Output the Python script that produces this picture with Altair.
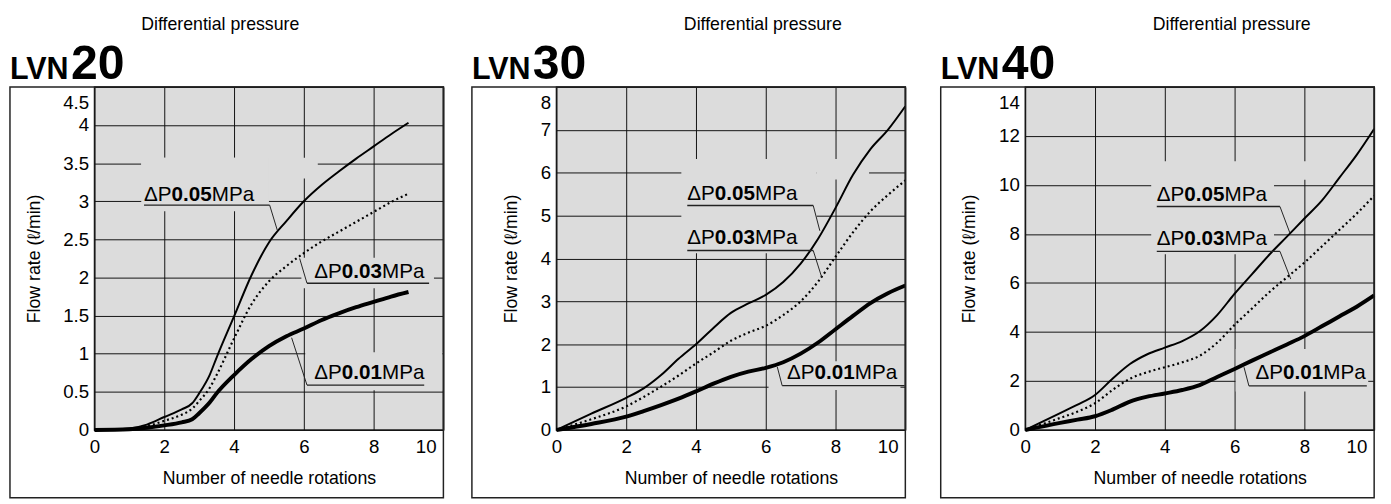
import altair as alt
import pandas as pd

FONT = "Liberation Sans"

# ---------------- data ----------------
series_names = ["0.05", "0.03", "0.01"]

# LVN20
lvn20_x = [0, 1, 1.5, 2, 2.5, 2.8, 3, 3.3, 3.5, 4, 4.5, 5, 5.5, 6, 6.5, 7, 7.5, 8, 8.5, 9]
lvn20_p05 = [0, 0.02, 0.07, 0.17, 0.27, 0.35, 0.48, 0.72, 0.95, 1.49, 2.03, 2.46, 2.74, 3.0, 3.21, 3.39, 3.56, 3.72, 3.88, 4.03]
lvn20_p03 = [0, 0.01, 0.05, 0.12, 0.2, 0.28, 0.38, 0.55, 0.72, 1.2, 1.65, 1.95, 2.15, 2.32, 2.47, 2.6, 2.73, 2.86, 2.99, 3.1]
lvn20_p01 = [0, 0.01, 0.03, 0.06, 0.1, 0.14, 0.22, 0.36, 0.48, 0.72, 0.93, 1.1, 1.23, 1.33, 1.44, 1.53, 1.61, 1.68, 1.75, 1.81]

# LVN30
lvn30_x = [0, 1, 2, 2.5, 3, 3.5, 4, 4.5, 5, 5.5, 6, 6.5, 7, 7.5, 8, 8.5, 9, 9.5, 10]
lvn30_p05 = [0, 0.38, 0.75, 0.97, 1.28, 1.66, 2.0, 2.38, 2.73, 2.95, 3.15, 3.45, 3.88, 4.46, 5.18, 5.95, 6.55, 7.0, 7.55]
lvn30_p03 = [0, 0.25, 0.55, 0.77, 1.01, 1.27, 1.55, 1.81, 2.08, 2.27, 2.43, 2.68, 3.0, 3.46, 4.04, 4.61, 5.1, 5.48, 5.82]
lvn30_p01 = [0, 0.14, 0.31, 0.44, 0.58, 0.73, 0.9, 1.08, 1.24, 1.36, 1.45, 1.58, 1.78, 2.04, 2.35, 2.66, 2.96, 3.19, 3.37]

# LVN40
lvn40_x = [0, 1, 1.5, 2, 2.5, 3, 3.5, 4, 4.5, 5, 5.5, 6, 6.5, 7, 7.5, 8, 8.5, 9, 9.5, 10]
lvn40_p05 = [0, 0.69, 1.03, 1.43, 2.09, 2.69, 3.09, 3.36, 3.63, 4.03, 4.69, 5.56, 6.36, 7.16, 7.89, 8.63, 9.36, 10.29, 11.23, 12.29]
lvn40_p03 = [0, 0.49, 0.75, 1.09, 1.63, 2.09, 2.36, 2.56, 2.76, 3.03, 3.56, 4.29, 4.96, 5.63, 6.23, 6.83, 7.49, 8.16, 8.83, 9.56]
lvn40_p01 = [0, 0.29, 0.42, 0.56, 0.83, 1.16, 1.36, 1.49, 1.63, 1.83, 2.16, 2.49, 2.83, 3.16, 3.49, 3.83, 4.23, 4.63, 5.03, 5.49]

# annotation anchors (data units): label text, underline, leader to curve
lvn20_lab_x = [1.42, 6.30, 6.30]
lvn20_lab_y = [3.01, 1.99, 0.663]
lvn20_ul_x1 = [1.42, 6.09, 6.09]
lvn20_ul_x2 = [5.02, 9.59, 9.45]
lvn20_ul_y = [2.95, 1.925, 0.589]
lvn20_ld_x1 = [5.02, 6.09, 6.09]
lvn20_ld_x2 = [5.24, 5.88, 5.65]
lvn20_ld_y2 = [2.62, 2.25, 1.21]
lvn20_bg_x1 = [1.34, 1.34, 5.93, 6.04]
lvn20_bg_x2 = [6.4, 5.0, 9.73, 9.97]
lvn20_bg_y1 = [3.30, 2.87, 1.86, 0.52]
lvn20_bg_y2 = [3.57, 3.57, 2.26, 1.02]

lvn30_lab_x = [3.75, 3.75, 6.61]
lvn30_lab_y = [5.37, 4.34, 1.2]
lvn30_ul_x1 = [3.75, 3.75, 6.47]
lvn30_ul_x2 = [7.36, 7.36, 9.98]
lvn30_ul_y = [5.235, 4.186, 1.033]
lvn30_ld_x1 = [7.36, 7.36, 6.47]
lvn30_ld_x2 = [7.55, 7.6, 6.33]
lvn30_ld_y2 = [4.645, 3.57, 1.47]
lvn30_bg_x1 = [3.58, 7.46, 6.08]
lvn30_bg_x2 = [7.46, 8.96, 9.86]
lvn30_bg_y1 = [4.12, 5.84, 0.93]
lvn30_bg_y2 = [6.32, 6.32, 1.60]

lvn40_lab_x = [3.77, 3.77, 6.6]
lvn40_lab_y = [9.36, 7.56, 2.06]
lvn40_ul_x1 = [3.77, 3.77, 6.41]
lvn40_ul_x2 = [7.30, 7.30, 9.79]
lvn40_ul_y = [9.12, 7.29, 1.8]
lvn40_ld_x1 = [7.30, 7.30, 6.41]
lvn40_ld_x2 = [7.59, 7.61, 6.27]
lvn40_ld_y2 = [8.02, 6.16, 2.56]
lvn40_bg_x1 = [3.61, 7.13, 6.03]
lvn40_bg_x2 = [7.13, 8.2, 9.83]
lvn40_bg_y1 = [7.17, 10.21, 1.57]
lvn40_bg_y2 = [10.97, 10.97, 3.3]

x_ticks = [0, 2, 4, 6, 8, 10]
lvn20_y_ticks = [0, 0.5, 1, 1.5, 2, 2.5, 3, 3.5, 4, 4.5]
lvn30_y_ticks = [0, 1, 2, 3, 4, 5, 6, 7, 8]
lvn40_y_ticks = [0, 2, 4, 6, 8, 10, 12, 14]

W, H = 355, 349
BG = "#dcdcdc"
LFS = 21  # curve label font size
FRAME_BOTTOM = 418


def make_panel(num, xs, p05, p03, p01, yticks, lab_x, lab_y, ul_x1, ul_x2, ul_y,
               ld_x1, ld_x2, ld_y2, bg_x1, bg_x2, bg_y1, bg_y2, sub_dx):
    ymax = yticks[-1]
    xsc = alt.Scale(domain=[0, 10], nice=False, zero=False)
    ysc = alt.Scale(domain=[0, ymax], nice=False, zero=False)
    xaxis = alt.Axis(
        values=x_ticks, format="~r", title="Number of needle rotations",
        labelPadding=8, titlePadding=13, labelFlush=False,
        labelOffset={"condition": {"test": "datum.value == 10", "value": -18}, "value": 0})
    yaxis = alt.Axis(
        values=yticks, format="~r", title="Flow rate (ℓ/min)",
        labelPadding=6, titlePadding=20, labelFlush=False,
        labelOffset={"condition": {"test": "datum.value == %s" % ymax, "value": 16}, "value": 0})

    def X(field):
        return alt.X(field, type="quantitative", scale=xsc, axis=xaxis)

    def Y(field):
        return alt.Y(field, type="quantitative", scale=ysc, axis=yaxis)

    curves = pd.DataFrame({
        "x": xs * 3,
        "y": p05 + p03 + p01,
        "s": ["0.05"] * len(xs) + ["0.03"] * len(xs) + ["0.01"] * len(xs),
    })
    labels = pd.DataFrame({
        "v": series_names, "tx": lab_x, "ty": lab_y,
        "ux1": ul_x1, "ux2": ul_x2, "uy": ul_y,
        "lx1": ld_x1, "lx2": ld_x2, "ly2": ld_y2,
    })
    bgs = pd.DataFrame({"x1": bg_x1, "x2": bg_x2, "y1": bg_y1, "y2": bg_y2})
    one = alt.Data(values=[{"k": 1}])

    rects = alt.Chart(bgs).mark_rect(color=BG).encode(
        x=X("x1"), x2="x2", y=Y("y1"), y2="y2")

    base_lines = alt.Chart(curves)
    l05 = base_lines.mark_line(color="black", strokeWidth=2, interpolate="monotone").encode(
        x=X("x"), y=Y("y")).transform_filter(alt.datum.s == "0.05")
    l03 = base_lines.mark_line(color="black", strokeWidth=2.2, strokeDash=[2, 3],
                               interpolate="monotone").encode(
        x=X("x"), y=Y("y")).transform_filter(alt.datum.s == "0.03")
    l01 = base_lines.mark_line(color="black", strokeWidth=4, interpolate="monotone").encode(
        x=X("x"), y=Y("y")).transform_filter(alt.datum.s == "0.01")

    lab = alt.Chart(labels)
    underline = lab.mark_rule(color="#222", strokeWidth=1.4).encode(
        x=X("ux1"), x2="ux2", y=Y("uy"))
    leader = lab.mark_rule(color="#222", strokeWidth=1).encode(
        x=X("lx1"), y=Y("uy"), x2="lx2", y2="ly2")
    txt_kw = dict(align="left", baseline="alphabetic", fontSize=LFS, font=FONT, color="black")
    t1 = lab.mark_text(**txt_kw).encode(x=X("tx"), y=Y("ty"), text=alt.value("ΔP"))
    t2 = lab.mark_text(dx=1.334 * LFS, fontWeight="bold", **txt_kw).encode(
        x=X("tx"), y=Y("ty"), text="v:N")
    t3 = lab.mark_text(dx=3.28 * LFS, **txt_kw).encode(
        x=X("tx"), y=Y("ty"), text=alt.value("MPa"))

    frame = alt.Chart(one).mark_rect(filled=False, stroke="#222", strokeWidth=1.5).encode(
        x=alt.value(-86), x2=alt.value(W), y=alt.value(0), y2=alt.value(FRAME_BOTTOM))
    top_guide = alt.Chart(one).mark_rule(strokeOpacity=0, strokeWidth=0.01).encode(
        x=alt.value(0), x2=alt.value(10), y=alt.value(-75))
    h1 = alt.Chart(one).mark_text(align="left", baseline="alphabetic", font=FONT,
                                  fontSize=31, fontWeight="bold", color="black").encode(
        x=alt.value(-86), y=alt.value(-8), text=alt.value("LVN"))
    h2 = alt.Chart(one).mark_text(align="left", baseline="alphabetic", font=FONT,
                                  fontSize=49, fontWeight="bold", color="black").encode(
        x=alt.value(-24), y=alt.value(-8), text=alt.value(num))
    h3 = alt.Chart(one).mark_text(align="center", baseline="alphabetic", font=FONT,
                                  fontSize=18, color="black").encode(
        x=alt.value(sub_dx), y=alt.value(-58), text=alt.value("Differential pressure"))

    return alt.layer(rects, l05, l03, l01, underline, leader, t1, t2, t3,
                     frame, top_guide, h1, h2, h3).properties(width=W, height=H)


p1 = make_panel("20", lvn20_x, lvn20_p05, lvn20_p03, lvn20_p01, lvn20_y_ticks,
                lvn20_lab_x, lvn20_lab_y, lvn20_ul_x1, lvn20_ul_x2, lvn20_ul_y,
                lvn20_ld_x1, lvn20_ld_x2, lvn20_ld_y2,
                lvn20_bg_x1, lvn20_bg_x2, lvn20_bg_y1, lvn20_bg_y2, 128)
p2 = make_panel("30", lvn30_x, lvn30_p05, lvn30_p03, lvn30_p01, lvn30_y_ticks,
                lvn30_lab_x, lvn30_lab_y, lvn30_ul_x1, lvn30_ul_x2, lvn30_ul_y,
                lvn30_ld_x1, lvn30_ld_x2, lvn30_ld_y2,
                lvn30_bg_x1, lvn30_bg_x2, lvn30_bg_y1, lvn30_bg_y2, 210)
p3 = make_panel("40", lvn40_x, lvn40_p05, lvn40_p03, lvn40_p01, lvn40_y_ticks,
                lvn40_lab_x, lvn40_lab_y, lvn40_ul_x1, lvn40_ul_x2, lvn40_ul_y,
                lvn40_ld_x1, lvn40_ld_x2, lvn40_ld_y2,
                lvn40_bg_x1, lvn40_bg_x2, lvn40_bg_y1, lvn40_bg_y2, 210)

chart = alt.hconcat(p1, p2, p3, spacing=25, bounds="full").properties(
    padding={"left": 0, "top": 0, "right": 0, "bottom": 0}
).resolve_scale(x="independent", y="independent").configure_axis(
    grid=True, gridColor="#111", gridWidth=1, gridOpacity=1,
    domain=False, ticks=False, labelOverlap=False,
    labelFont=FONT, labelFontSize=19, labelColor="black",
    titleFont=FONT, titleFontSize=18, titleFontWeight="normal", titleColor="black",
).configure_view(fill=BG, stroke="#222", strokeWidth=1.5)

chart.save("out.html", embed_options={"renderer": "svg", "actions": False})
